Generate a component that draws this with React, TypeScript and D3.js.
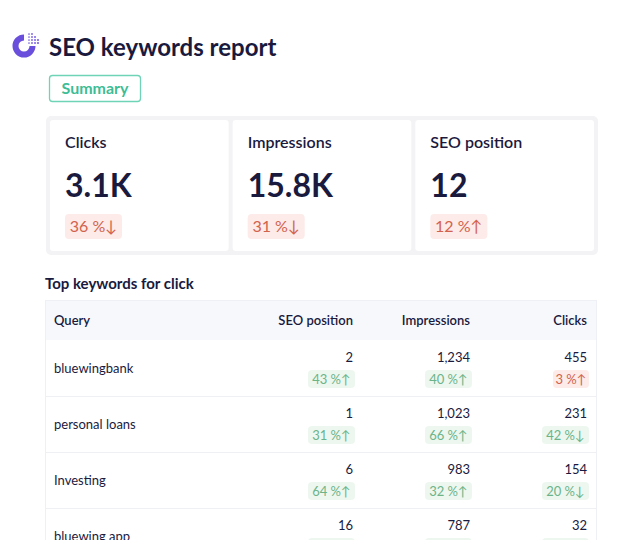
import React from "react";
import * as d3 from "d3";

// summary cards
const cardTitles = ["Clicks", "Impressions", "SEO position"];
const cardValues = ["3.1K", "15.8K", "12"];
const cardChanges = [36, 31, 12];
const cardDirections = ["down", "down", "up"];

// table
const columns = ["SEO position", "Impressions", "Clicks"];
const queries = ["bluewingbank", "personal loans", "Investing", "bluewing app"];
const seoPositions = ["2", "1", "6", "16"];
const impressions = ["1,234", "1,023", "983", "787"];
const clicks = ["455", "231", "154", "32"];
const seoChanges = [43, 31, 64, null];
const impressionChanges = [40, 66, 32, null];
const clickChanges = [3, 42, 20, null];
const seoDirs = ["up", "up", "up", "up"];
const impressionDirs = ["up", "up", "up", "up"];
const clickDirs = ["up", "down", "down", "down"];
const clickGood = [false, true, true, true];

const font = "Lato, 'Open Sans', sans-serif";
const ink = "#1a1a3e";
const red = { fg: "#d3624c", bg: "#fcebe9" };
const green = { fg: "#6cb488", bg: "#edf7f0" };

const Badge = ({ xRight, y, pct, dir, good, size, padX, h, w }: any) => {
  const c = good ? green : red;
  const label = pct == null ? "" : `${pct} %${dir === "up" ? "↑" : "↓"}`;
  return (
    <g>
      <rect x={xRight - w} y={y} width={w} height={h} rx={4} fill={c.bg} />
      <text x={xRight - w / 2} y={y + h / 2} dy="0.36em" textAnchor="middle" fill={c.fg} fontSize={size} fontFamily={font}>
        {label}
      </text>
    </g>
  );
};

const App = () => {
  const width = 640;
  const height = 540;

  const cardX = d3.scaleBand().domain(cardTitles).range([50, 594]).paddingInner(0.022);
  const rowY = d3.scaleBand().domain(queries).range([340, 340 + 56 * queries.length]);
  const colX = d3.scalePoint().domain(columns).range([353, 587]);

  const cellData = [
    { vals: seoPositions, changes: seoChanges, dirs: seoDirs, good: queries.map(() => true) },
    { vals: impressions, changes: impressionChanges, dirs: impressionDirs, good: queries.map(() => true) },
    { vals: clicks, changes: clickChanges, dirs: clickDirs, good: clickGood },
  ];

  // logo dots (top-right quadrant of the ring)
  const dots: [number, number, number][] = [];
  for (let i = 0; i < 4; i++) {
    for (let j = 0; j < 4; j++) {
      if (i + (3 - j) > 4) continue;
      dots.push([29 + i * 3, 34 + j * 3, 1.1 - (3 - i) * 0.08]);
    }
  }
  const ring = d3.arc()({ innerRadius: 5.5, outerRadius: 11.5, startAngle: Math.PI * 0.5, endAngle: Math.PI * 2 }) as string;

  return (
    <svg width={width} height={height} style={{ position: "absolute", left: 0, top: 0, background: "#fff" }} fontFamily={font}>
      {/* header */}
      <path d={ring} transform="translate(24,46)" fill="#6a4fdc" />
      {dots.map(([x, y, r], i) => (
        <circle key={i} cx={x} cy={y} r={r} fill="#7b62e3" />
      ))}
      <text x={49} y={56} fontSize={24} fontWeight={700} fill={ink}>SEO keywords report</text>

      <rect x={49.5} y={75.5} width={91} height={26} rx={3} fill="#fff" stroke="#6fd4b6" strokeWidth={1.3} />
      <text x={95} y={94} textAnchor="middle" fontSize={16} fontWeight={700} fill="#3dbd96">Summary</text>

      {/* summary cards */}
      <rect x={46} y={116} width={552} height={139} rx={5} fill="#f3f3f6" />
      {cardTitles.map((t, i) => {
        const x0 = cardX(t) as number;
        return (
          <g key={t}>
            <rect x={x0} y={120} width={cardX.bandwidth()} height={131} rx={3} fill="#fff" />
            <text x={x0 + 15} y={148} fontSize={16} fontWeight={600} fill={ink}>{t}</text>
            <text x={x0 + 15} y={197} fontSize={32} fontWeight={700} fill={ink}>{cardValues[i]}</text>
            <Badge xRight={x0 + 15 + 57} y={214} pct={cardChanges[i]} dir={cardDirections[i]} good={false} size={16} h={25} w={57} />
          </g>
        );
      })}

      {/* table */}
      <text x={45} y={289} fontSize={15} fontWeight={700} fill={ink}>Top keywords for click</text>
      <rect x={45.5} y={300.5} width={551} height={260} fill="#fff" stroke="#eef0f5" />
      <rect x={46} y={301} width={550} height={39} fill="#f7f8fc" />
      <text x={54} y={325} fontSize={13} fontWeight={600} fill={ink}>Query</text>
      {columns.map((c) => (
        <text key={c} x={colX(c)} y={325} textAnchor="end" fontSize={13} fontWeight={600} fill={ink}>{c}</text>
      ))}
      {queries.map((q, r) => {
        const y0 = rowY(q) as number;
        return (
          <g key={q}>
            {r > 0 && <line x1={46} x2={596} y1={y0 + 0.5} y2={y0 + 0.5} stroke="#eef0f4" />}
            <text x={54} y={y0 + 33} fontSize={13} fill={ink}>{q}</text>
            {columns.map((c, k) => {
              const d = cellData[k];
              const x = colX(c) as number;
              const w = d.changes[r] != null && d.changes[r]! < 10 ? 36 : 47;
              return (
                <g key={c}>
                  <text x={x} y={y0 + 22} textAnchor="end" fontSize={13} fill={ink}>{d.vals[r]}</text>
                  <Badge xRight={x + 2} y={y0 + 30} pct={d.changes[r]} dir={d.dirs[r]} good={d.good[r]} size={13} h={18} w={w} />
                </g>
              );
            })}
          </g>
        );
      })}
    </svg>
  );
};

export default App;
